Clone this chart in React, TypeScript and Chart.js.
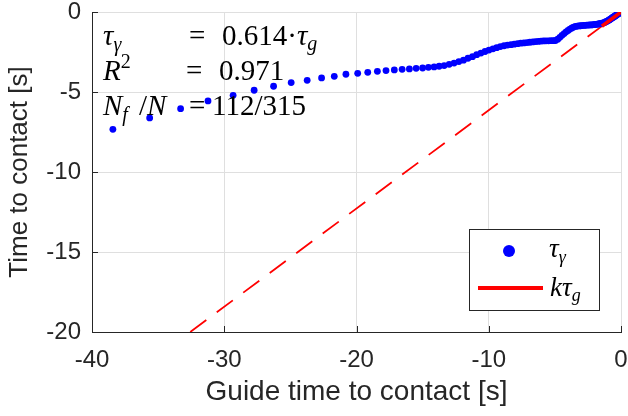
import React, { useEffect, useRef } from "react";
import { Chart, registerables } from "chart.js";
Chart.register(...registerables);

// ---- data ----
const xTicks = [-40, -30, -20, -10, 0];
const yTicks = [-20, -15, -10, -5, 0];

// guide time to contact (tau_g) [s]
const tauG = [
  -38.42, -35.64, -33.3, -31.23, -29.33, -27.74, -26.27, -24.94, -23.73, -22.64,
  -21.68, -20.8, -19.91, -19.15, -18.42, -17.77, -17.14, -16.55, -16.0, -15.49,
  -15.0, -14.56, -14.13, -13.75, -13.37, -12.99, -12.62, -12.26, -11.91, -11.57,
  -11.23, -10.91, -10.59, -10.28, -9.98, -9.68, -9.4, -9.12, -8.84, -8.58,
  -8.32, -8.07, -7.82, -7.58, -7.34, -7.11, -6.89, -6.67, -6.46, -6.25,
  -6.05, -5.86, -5.67, -5.48, -5.3, -5.12, -4.95, -4.78, -4.62, -4.46,
  -4.3, -4.15, -4.0, -3.86, -3.71, -3.58, -3.44, -3.31, -3.18, -3.06,
  -2.94, -2.82, -2.7, -2.59, -2.48, -2.37, -2.27, -2.17, -2.07, -1.97,
  -1.88, -1.79, -1.7, -1.61, -1.53, -1.45, -1.37, -1.29, -1.21, -1.14,
  -1.07, -1.0, -0.93, -0.86, -0.8, -0.74, -0.68, -0.62, -0.56, -0.5,
  -0.45, -0.39, -0.34, -0.29, -0.24, -0.19, -0.14, -0.1, -0.05,
];
// time to contact (tau_gamma) [s]
const tauGamma = [
  -7.33, -6.62, -6.04, -5.56, -5.21, -4.89, -4.64, -4.41, -4.27, -4.12,
  -4.02, -3.89, -3.83, -3.77, -3.71, -3.66, -3.62, -3.58, -3.56, -3.52,
  -3.5, -3.46, -3.43, -3.39, -3.35, -3.27, -3.19, -3.1, -3.01, -2.89,
  -2.79, -2.67, -2.57, -2.47, -2.38, -2.3, -2.23, -2.16, -2.11, -2.07,
  -2.04, -2.01, -1.98, -1.95, -1.93, -1.91, -1.89, -1.87, -1.85, -1.84,
  -1.82, -1.81, -1.8, -1.8, -1.79, -1.79, -1.78, -1.7, -1.58, -1.46,
  -1.35, -1.24, -1.15, -1.07, -1.0, -0.94, -0.9, -0.88, -0.87, -0.86,
  -0.85, -0.84, -0.83, -0.82, -0.82, -0.81, -0.81, -0.8, -0.79, -0.78,
  -0.77, -0.76, -0.75, -0.73, -0.72, -0.7, -0.69, -0.67, -0.64, -0.61,
  -0.58, -0.55, -0.51, -0.48, -0.44, -0.41, -0.37, -0.34, -0.31, -0.28,
  -0.25, -0.22, -0.19, -0.16, -0.13, -0.1, -0.07, -0.05, -0.02,
];

const kFit = 0.614;
const dashedRange = [-32.57, 0];
const solidRange = [-1.45, 0];
const r2Text = "0.971";
const kText = "0.614";
const countText = "112/315";

const AXIS = "#262626";
const GRID = "#dfdfdf";
const SANS = "'Liberation Sans', Arial, sans-serif";
const SERIF = "'Liberation Serif', 'Times New Roman', serif";

type Part = { t: string; italic?: boolean; size: number; dy?: number; x?: number };

function drawRich(ctx: CanvasRenderingContext2D, x0: number, y: number, parts: Part[]) {
  let x = x0;
  for (const p of parts) {
    if (p.x !== undefined) x = p.x;
    ctx.font = `${p.italic ? "italic " : ""}${p.size}px ${SERIF}`;
    ctx.fillText(p.t, x, y + (p.dy || 0));
    x += ctx.measureText(p.t).width;
  }
}

const overlayPlugin = {
  id: "overlay",
  afterDatasetsDraw(chart: any) {
    const ctx = chart.ctx as CanvasRenderingContext2D;
    const { left, bottom } = chart.chartArea;
    const xs = chart.scales.x;
    const ys = chart.scales.y;
    ctx.save();
    // inward tick marks
    ctx.strokeStyle = AXIS;
    ctx.lineWidth = 1;
    ctx.beginPath();
    for (const v of xTicks) {
      const px = Math.round(xs.getPixelForValue(v)) + 0.5;
      ctx.moveTo(px, bottom);
      ctx.lineTo(px, bottom - 6);
    }
    for (const v of yTicks) {
      const py = Math.round(ys.getPixelForValue(v)) + 0.5;
      ctx.moveTo(left, py);
      ctx.lineTo(left + 6, py);
    }
    ctx.stroke();

    // annotation text
    ctx.fillStyle = "#000";
    ctx.textBaseline = "alphabetic";
    ctx.textAlign = "left";
    drawRich(ctx, 103, 45, [
      { t: "τ", italic: true, size: 29 },
      { t: "γ", italic: true, size: 20, dy: 6 },
      { t: "=", size: 29, x: 189 },
      { t: kText + "·", size: 29, x: 222 },
      { t: "τ", italic: true, size: 29 },
      { t: "g", italic: true, size: 20, dy: 5 },
    ]);
    drawRich(ctx, 103, 80, [
      { t: "R", italic: true, size: 29 },
      { t: "2", size: 20, dy: -12 },
      { t: "=", size: 29, x: 186 },
      { t: r2Text, size: 29, x: 219 },
    ]);
    drawRich(ctx, 103, 115, [
      { t: "N", italic: true, size: 29 },
      { t: "f", italic: true, size: 20, dy: 6 },
      { t: "/", size: 29, x: 139 },
      { t: "N", italic: true, size: 29 },
      { t: "=", size: 29, x: 189 },
      { t: countText, size: 29, x: 212 },
    ]);

    // legend
    ctx.fillStyle = "#fff";
    ctx.fillRect(469.5, 229.5, 130, 81);
    ctx.strokeStyle = AXIS;
    ctx.lineWidth = 1;
    ctx.strokeRect(469.5, 229.5, 130, 81);
    ctx.fillStyle = "#0000ff";
    ctx.beginPath();
    ctx.arc(509, 251, 6, 0, Math.PI * 2);
    ctx.fill();
    ctx.strokeStyle = "#ff0000";
    ctx.lineWidth = 4;
    ctx.beginPath();
    ctx.moveTo(478, 288);
    ctx.lineTo(543, 288);
    ctx.stroke();
    ctx.fillStyle = "#000";
    drawRich(ctx, 549, 257, [
      { t: "τ", italic: true, size: 27 },
      { t: "γ", italic: true, size: 18, dy: 6 },
    ]);
    drawRich(ctx, 550, 296, [
      { t: "k", italic: true, size: 27 },
      { t: "τ", italic: true, size: 27 },
      { t: "g", italic: true, size: 18, dy: 5 },
    ]);
    ctx.restore();
  },
};

export default function App() {
  const ref = useRef<HTMLCanvasElement | null>(null);
  useEffect(() => {
    if (!ref.current) return;
    const points = tauG.map((x, i) => ({ x, y: tauGamma[i] }));
    const solid = solidRange.map((x) => ({ x, y: kFit * x }));
    const dashed = dashedRange.map((x) => ({ x, y: kFit * x }));
    const chart = new Chart(ref.current, {
      type: "scatter",
      data: {
        datasets: [
          {
            label: "kτg",
            type: "line",
            data: solid,
            borderColor: "#ff0000",
            borderWidth: 3.5,
            pointRadius: 0,
            showLine: true,
          } as any,
          {
            label: "τγ",
            data: points,
            backgroundColor: "#0000ff",
            borderWidth: 0,
            pointRadius: 3.4,
          },
          {
            label: "fit",
            type: "line",
            data: dashed,
            borderColor: "#ff0000",
            borderWidth: 1.8,
            borderDash: [20, 13],
            pointRadius: 0,
            showLine: true,
          } as any,
        ],
      },
      options: {
        animation: false,
        responsive: false,
        devicePixelRatio: 1,
        layout: { padding: { top: 12, right: 7, left: 0, bottom: 0 } },
        plugins: { legend: { display: false }, tooltip: { enabled: false } },
        scales: {
          x: {
            type: "linear",
            min: -40,
            max: 0,
            afterBuildTicks: (s: any) => {
              s.ticks = xTicks.map((value) => ({ value }));
            },
            afterFit: (s: any) => {
              s.height = 84;
              s.paddingLeft = 0;
              s.paddingRight = 0;
            },
            ticks: {
              font: { family: SANS, size: 24 },
              color: AXIS,
              padding: 14,
              maxRotation: 0,
              autoSkip: false,
              callback: (v: any) => String(v),
            },
            grid: { color: GRID, drawTicks: false, tickLength: 0 },
            border: { color: AXIS, width: 1 },
            title: {
              display: true,
              text: "Guide time to contact [s]",
              font: { family: SANS, size: 28 },
              color: AXIS,
              padding: { top: 0, bottom: 7 },
            },
          },
          y: {
            type: "linear",
            min: -20,
            max: 0,
            afterBuildTicks: (s: any) => {
              s.ticks = yTicks.map((value) => ({ value }));
            },
            afterFit: (s: any) => {
              s.width = 92;
              s.paddingTop = 0;
              s.paddingBottom = 0;
            },
            ticks: {
              font: { family: SANS, size: 24 },
              color: AXIS,
              padding: 11,
              autoSkip: false,
              callback: (v: any) => String(v),
            },
            grid: { color: GRID, drawTicks: false, tickLength: 0 },
            border: { color: AXIS, width: 1 },
            title: {
              display: true,
              text: "Time to contact [s]",
              font: { family: SANS, size: 26 },
              color: AXIS,
              padding: { top: 4, bottom: 0 },
            },
          },
        },
      },
      plugins: [overlayPlugin],
    });
    return () => chart.destroy();
  }, []);
  return (
    <div style={{ position: "fixed", left: 0, top: 0, width: 628, height: 416, background: "#fff" }}>
      <canvas ref={ref} width={628} height={416} />
    </div>
  );
}
